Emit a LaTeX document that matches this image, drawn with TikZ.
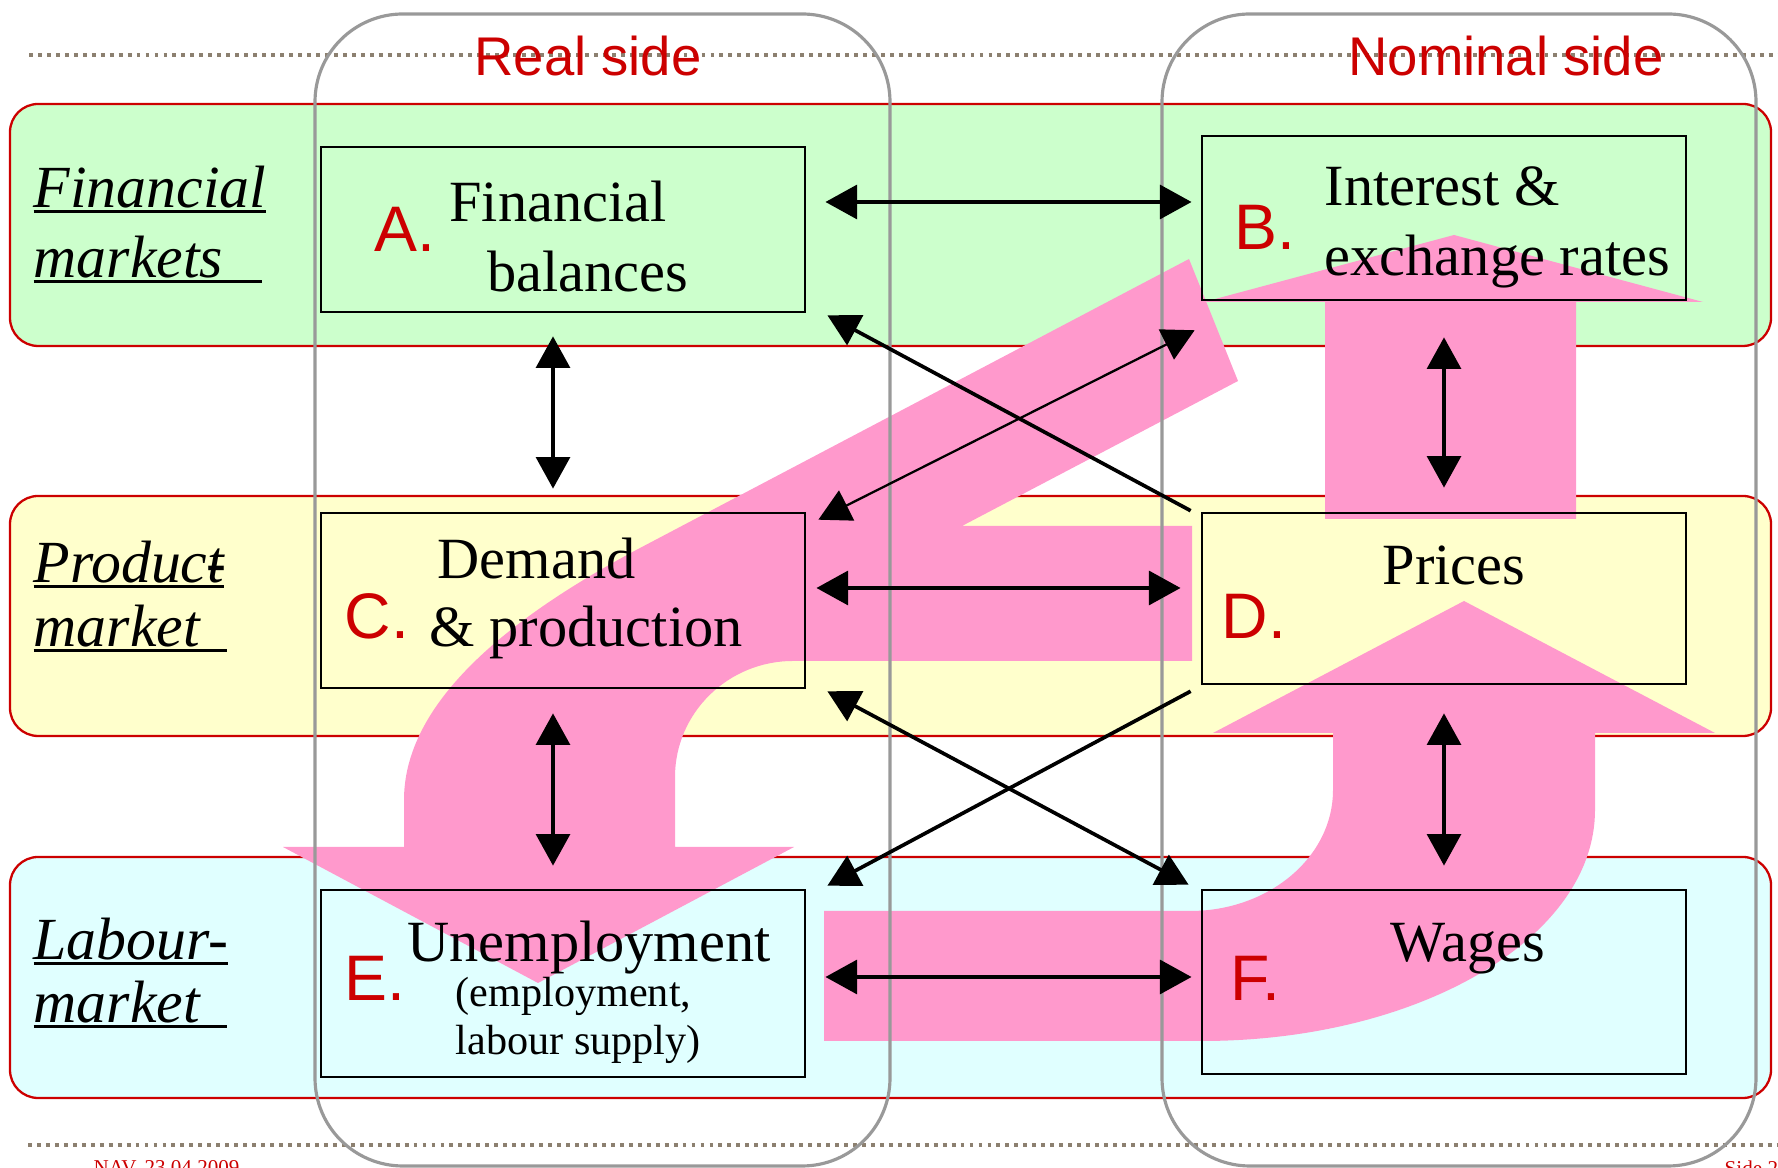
\documentclass[tikz,border=0pt]{standalone}
\usepackage{fontspec}
\setmainfont{Liberation Serif}
\newfontfamily\arialfont{Liberation Sans}
\usetikzlibrary{arrows.meta,calc}
\definecolor{nred}{RGB}{204,0,0}
\definecolor{fingreen}{RGB}{204,255,204}
\definecolor{prodyellow}{RGB}{255,255,204}
\definecolor{labcyan}{RGB}{224,255,255}
\definecolor{flowpink}{RGB}{255,153,204}
\definecolor{colgray}{RGB}{153,153,153}
\definecolor{dotgray}{RGB}{140,128,112}
\newcommand\thickul[1]{\setbox0\hbox{#1}\rlap{\rule[-1.4pt]{\wd0}{0.8pt}}\box0}

\begin{document}
\begin{tikzpicture}[x=0.01cm,y=-0.01cm,>={Triangle[length=9pt,width=9.5pt]},
    band/.style={draw=nred,line width=0.65pt,rounded corners=8pt},
    column/.style={draw=colgray,line width=0.9pt,rounded corners=25pt},
    dotline/.style={dotgray,line width=1.1pt,dash pattern=on 1.1pt off 1.45pt},
    box/.style={draw,line width=0.7pt,minimum width=4.84cm,inner sep=0},
    biarrow/.style={<->,line width=1.4pt},
    boxtxt/.style={font=\fontsize{16.6}{20}\selectfont,inner sep=0},
    subtxt/.style={font=\fontsize{12}{14}\selectfont,inner sep=0,anchor=base west},
    letter/.style={font=\arialfont\fontsize{18.3}{22}\selectfont,text=nred,inner sep=0,anchor=base west},
    sidetitle/.style={font=\arialfont\fontsize{15.5}{18}\selectfont,text=nred,inner sep=0,anchor=base},
    rowlab/.style={font=\itshape\fontsize{17}{20}\selectfont,inner sep=0,anchor=base west},
    footer/.style={font=\fontsize{6}{7}\selectfont,text=nred,inner sep=0,anchor=north west}]
  \useasboundingbox (0,0) rectangle (1778,1168);
  \draw[dotline] (29,55) -- (1778,55);
  \draw[dotline] (28,1145) -- (1778,1145);
  % market bands
  \draw[band,fill=fingreen] (10,104) rectangle (1771,346);
  \draw[band,fill=prodyellow] (10,496) rectangle (1771,736);
  \draw[band,fill=labcyan] (10,857) rectangle (1771,1098);
  % pink flows
  \fill[flowpink] (1189,259) -- (1238,381) -- (962,526) -- (1192,526) -- (1192,661) -- (793,661)
    .. controls (728,661) and (675,713) .. (675,777) -- (675,847) -- (794,847) -- (538,983)
    -- (283,847) -- (404,847) -- (404,800) .. controls (404,715) and (483,631) .. (640,548) -- cycle;
  \fill[flowpink] (1325,519) -- (1325,302) -- (1204,302) -- (1454,235) -- (1703,302)
    -- (1576,302) -- (1576,519) -- cycle;
  \fill[flowpink] (824,911) -- (1190,911) .. controls (1269,911) and (1333,857) .. (1333,790)
    -- (1333,733) -- (1213,733) -- (1464,601) -- (1715,733) -- (1595,733) -- (1595,810)
    .. controls (1595,938) and (1419,1041) .. (1202,1041) -- (824,1041) -- cycle;
  % real and nominal side
  \draw[column] (315,14) rectangle (890,1166);
  \draw[column] (1162,14) rectangle (1756,1166);
  \node[sidetitle] (real) at (588,76) {Real side};
  \node[sidetitle] (nominal) at (1506,76) {Nominal side};
  % boxes
  \node[box,minimum height=1.65cm] (A) at (563,229.5) {};
  \node[box,minimum height=1.64cm] (B) at (1444,218) {};
  \node[box,minimum height=1.75cm] (C) at (563,600.5) {};
  \node[box,minimum height=1.71cm] (D) at (1444,598.5) {};
  \node[box,minimum height=1.87cm] (E) at (563,983.5) {};
  \node[box,minimum height=1.84cm] (F) at (1444,982) {};
  % links
  \draw[biarrow] ($(A.east)+(19,-27.5)$) -- ($(B.west)+(-9,-16)$);
  \draw[biarrow] ($(C.east)+(10,-12.5)$) -- ($(D.west)+(-20,-10.5)$);
  \draw[biarrow] ($(E.east)+(19,-6.5)$) -- ($(F.west)+(-9,-5)$);
  \draw[biarrow] ($(A.south)+(-10,23)$) -- ($(C.north)+(-10,-23)$);
  \draw[biarrow] ($(C.south)+(-10,24)$) -- ($(E.north)+(-10,-23)$);
  \draw[biarrow] ($(B.south)+(0,36)$) -- ($(D.north)+(0,-24)$);
  \draw[biarrow] ($(D.south)+(0,28)$) -- ($(F.north)+(0,-23)$);
  \draw[->,line width=1.05pt] ($(D.north west)+(-10,-1)$) -- ($(A.south east)+(21,2)$);
  \draw[<->,line width=0.65pt] ($(B.south west)+(-6,29)$) -- ($(C.north east)+(12,8)$);
  \draw[<->,line width=1.05pt] ($(C.south east)+(21,2)$) -- ($(F.north west)+(-12,-4)$);
  \draw[->,line width=1.05pt] ($(D.south west)+(-10,6)$) -- ($(E.north east)+(21,-3)$);
  % row labels
  \node[rowlab] (finA) at (33,208) {\thickul{Financial}};
  \node[rowlab] (finB) at (33,278) {\thickul{markets\kern0.65em}};
  \node[rowlab] (prodA) at (33,583) {\thickul{Product}\kern-0.3em-};
  \node[rowlab] (prodB) at (33,647) {\thickul{market\kern0.45em}};
  \node[rowlab] (labA) at (33,960) {\thickul{Labour-}};
  \node[rowlab] (labB) at (33,1023) {\thickul{market\kern0.45em}};
  % letters and box texts
  \node[letter] (lA) at (374,252) {A.};
  \node[letter] (lB) at (1234,250) {B.};
  \node[letter] (lC) at (344,639) {C.};
  \node[letter] (lD) at (1221,639) {D.};
  \node[letter] (lE) at (344,1001) {E.};
  \node[letter] (lF) at (1230,1001) {F.};
  \node[boxtxt,anchor=base] (tA1) at (558,222) {Financial};
  \node[boxtxt,anchor=base] (tA2) at (588,292) {balances};
  \node[boxtxt,anchor=base west] (tB1) at (1324,206) {Interest \&};
  \node[boxtxt,anchor=base west] (tB2) at (1324,276) {exchange rates};
  \node[boxtxt,anchor=base west] (tC1) at (437,579) {Demand};
  \node[boxtxt,anchor=base west] (tC2) at (429,647) {\& production};
  \node[boxtxt,anchor=base] (tD) at (1454,585) {Prices};
  \node[boxtxt,anchor=base] (tE1) at (589,962) {Unemployment};
  \node[subtxt] (tE2) at (455,1007) {(employment,};
  \node[subtxt] (tE3) at (455,1055) {labour supply)};
  \node[boxtxt,anchor=base] (tF) at (1468,962) {Wages};
  % footer
  \node[footer] (date) at (93,1160) {NAV, 23.04.2009};
  \node[footer] (page) at (1724,1160) {Side 2};
\end{tikzpicture}
\end{document}
